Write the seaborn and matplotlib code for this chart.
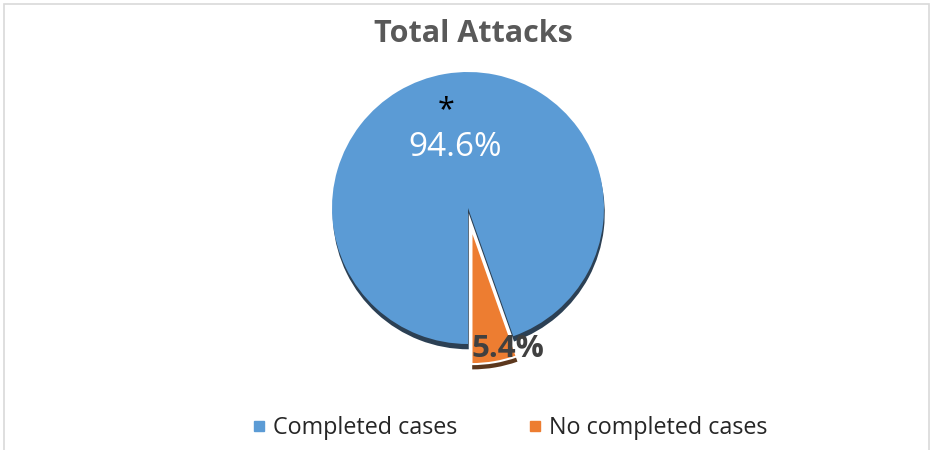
import matplotlib
matplotlib.use("Agg")
import matplotlib.pyplot as plt
from matplotlib.lines import Line2D
from matplotlib.patches import Rectangle
import seaborn as sns

# ---- data ----
categories = ["Completed cases", "No completed cases"]
values = [94.6, 5.4]
value_labels = ["94.6%", "5.4%"]
title = "Total Attacks"

sns.set_theme(style="white")
plt.rcParams["font.family"] = ["Open Sans", "DejaVu Sans"]
colors = ["#5B9BD5", "#ED7D31"]

W, H = 935, 450
fig = plt.figure(figsize=(W / 100, H / 100), dpi=100)

# frame around chart
fig.patches.append(Rectangle((4 / W, -0.1), (925) / W, (446 + 45) / H,
                             transform=fig.transFigure, fill=False,
                             edgecolor="#D9D9D9", linewidth=1.2))

cx, cy, r = 468, 450 - 208, 136
side = 3 * r
ax = fig.add_axes([(cx - side / 2) / W, (cy - side / 2) / H, side / W, side / H])

start = 270 + values[1] / 100 * 360 - 360
wedges, texts, autotexts = ax.pie(
    values, colors=colors, startangle=start, counterclock=True,
    explode=[0, 0.15], autopct="%1.1f%%", pctdistance=0.46,
    shadow={"ox": 0.004, "oy": -0.028, "shade": 0.65, "alpha": 0.95},
    wedgeprops=dict(linewidth=0),
    textprops=dict(fontsize=24),
)
wedges[1].set_edgecolor("white")
wedges[1].set_linewidth(1.5)
ax.set_xlim(-1.5, 1.5)
ax.set_ylim(-1.5, 1.5)
ax.set_aspect("equal")
ax.axis("off")

autotexts[0].set_text(value_labels[0])
autotexts[0].set_color("white")
autotexts[0].set_position((-13 / r, 61 / r))
autotexts[1].set_text(value_labels[1])
autotexts[1].set_color("#404040")
autotexts[1].set_fontweight("bold")
autotexts[1].set_fontsize(22.5)
autotexts[1].set_position((40 / r, -141 / r))
ax.text(-22 / r, 98 / r, "*", ha="center", va="center", fontsize=22, color="black")

fig.text(473 / W, 1 - 34 / H, title, ha="center", va="center",
         fontsize=22, fontweight="bold", color="#595959")

handles = [Line2D([], [], marker="s", linestyle="none", markersize=7,
                  markerfacecolor=c, markeredgecolor=c) for c in colors]
fig.legend(handles, categories, loc="center", bbox_to_anchor=(509 / W, 1 - 428 / H),
           ncol=2, frameon=False, fontsize=16.8, handletextpad=0.25,
           columnspacing=3.0, handlelength=0.7)

fig.savefig("out.png", dpi=100)
